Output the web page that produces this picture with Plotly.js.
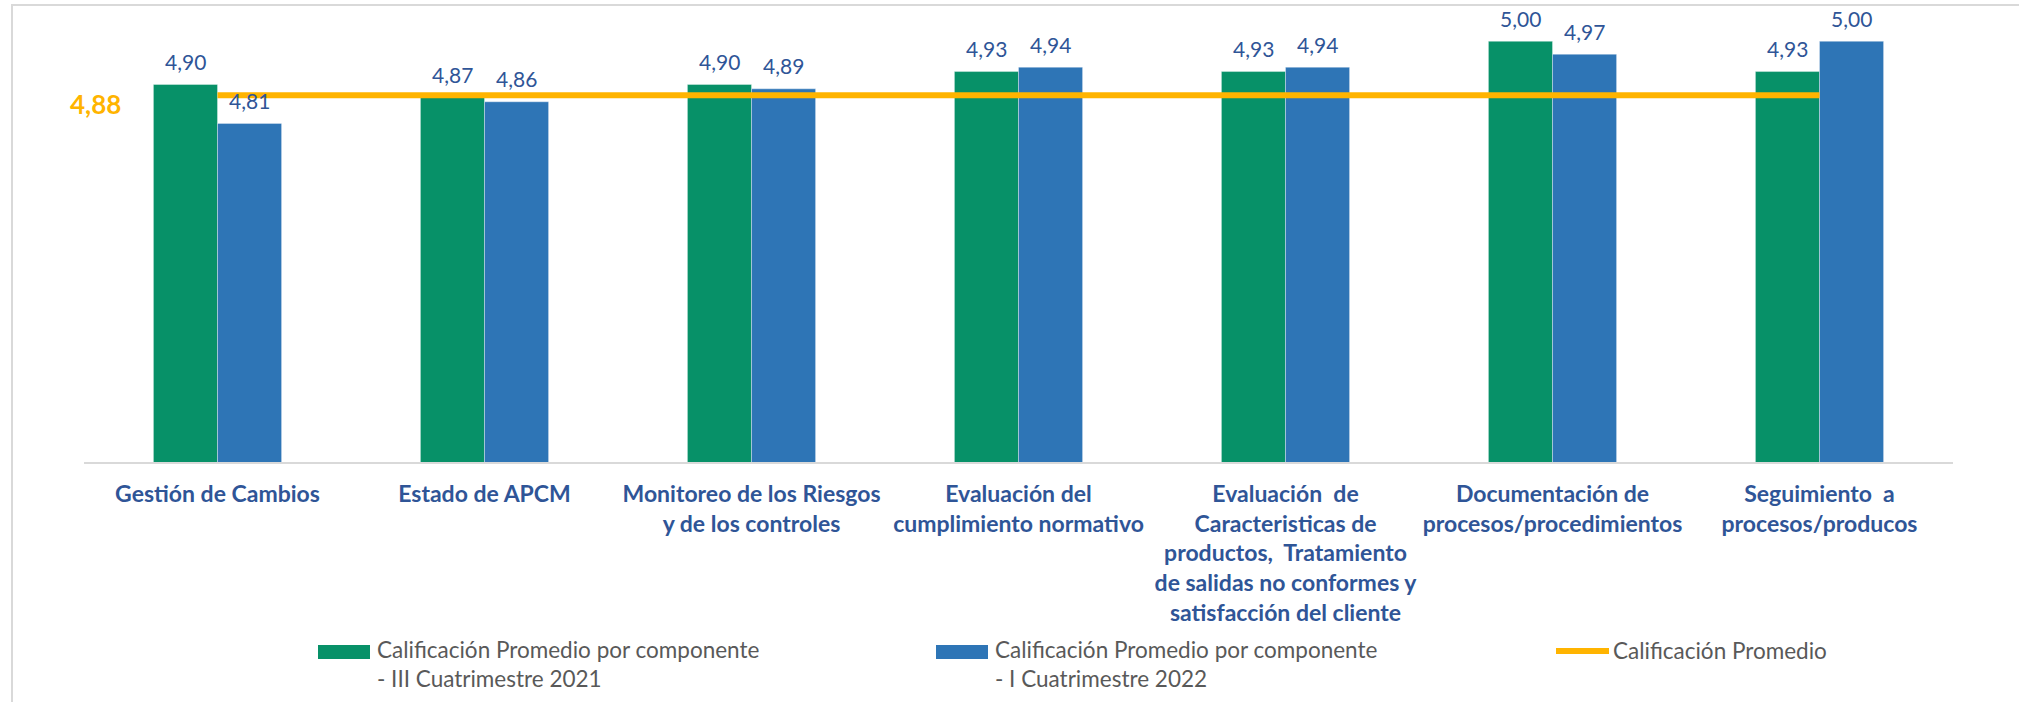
<!DOCTYPE html>
<html>
<head>
<meta charset="utf-8">
<script src="https://cdn.plot.ly/plotly-3.0.1.min.js"></script>
<style>
  html, body { margin: 0; padding: 0; background: #ffffff; overflow: hidden; }
  #frame { position: absolute; left: 11px; top: 4px; width: 2100px; height: 800px;
           border-top: 2px solid #D9D9D9; border-left: 2px solid #D9D9D9; box-sizing: border-box; }
  #chart { position: absolute; left: 0; top: 0; width: 2019px; height: 702px; }
</style>
</head>
<body>
<div id="frame"></div>
<div id="chart"></div>
<script>
// ---- DATA ----
const categories = [
  "Gestión de Cambios",
  "Estado de APCM",
  "Monitoreo de los Riesgos<br>y de los controles",
  "Evaluación del<br>cumplimiento normativo",
  "Evaluación  de<br>Caracteristicas de<br>productos,  Tratamiento<br>de salidas no conformes y<br>satisfacción del cliente",
  "Documentación de<br>procesos/procedimientos",
  "Seguimiento  a<br>procesos/producos"
];
const values2021 = [4.90, 4.87, 4.90, 4.93, 4.93, 5.00, 4.93];
const values2022 = [4.81, 4.86, 4.89, 4.94, 4.94, 4.97, 5.00];
const promedio = 4.875;
const seriesNames = [
  "Calificación Promedio por componente - III Cuatrimestre 2021",
  "Calificación Promedio por componente - I Cuatrimestre 2022",
  "Calificación Promedio"
];
const legendLabels = [
  "Calificación Promedio por componente<br>- III Cuatrimestre 2021",
  "Calificación Promedio por componente<br>- I Cuatrimestre 2022",
  "Calificación Promedio"
];

// ---- STYLE ----
const W = 2019, H = 702;
const M = { l: 84, r: 66, t: 18, b: 240 };
const GREEN = "#079168", BLUE = "#2E75B6", GOLD = "#FFB400";
const LABEL_BLUE = "#2F5597", GRAY = "#595959";
const FONT = "Lato, 'Open Sans', sans-serif";
const plotW = W - M.l - M.r, plotH = H - M.t - M.b;
const px2x = p => (p - M.l) / plotW;
const py2y = p => (H - M.b - p) / plotH;
const fmt = v => v.toFixed(2).replace('.', ',');

const promedioLine = categories.map(() => promedio);

const traces = [
  { type: "bar", name: seriesNames[0], x: categories, y: values2021,
    marker: { color: GREEN, line: { color: "rgba(255,255,255,0.35)", width: 1 } },
    hoverinfo: "none", showlegend: false },
  { type: "bar", name: seriesNames[1], x: categories, y: values2022,
    marker: { color: BLUE, line: { color: "rgba(255,255,255,0.35)", width: 1 } },
    hoverinfo: "none", showlegend: false },
  { type: "scatter", mode: "lines", name: seriesNames[2], x: categories, y: promedioLine,
    line: { color: GOLD, width: 6 }, hoverinfo: "none", showlegend: false }
];

const annotations = [];
const BAR_OFF = 32;
values2021.forEach((v, i) => annotations.push({
  xref: "x", yref: "y", x: categories[i], y: v, xshift: -BAR_OFF, yshift: 23,
  text: fmt(v), showarrow: false, xanchor: "center", yanchor: "middle",
  font: { family: FONT, size: 21, color: LABEL_BLUE }
}));
values2022.forEach((v, i) => annotations.push({
  xref: "x", yref: "y", x: categories[i], y: v, xshift: BAR_OFF, yshift: 23,
  text: fmt(v), showarrow: false, xanchor: "center", yanchor: "middle",
  font: { family: FONT, size: 21, color: LABEL_BLUE }
}));
// average value label
annotations.push({
  xref: "x", yref: "y", x: categories[0], y: promedio, xshift: -122, yshift: -9,
  text: fmt(promedio), showarrow: false, xanchor: "center", yanchor: "middle",
  font: { family: FONT, size: 26, color: GOLD, weight: "bold" }
});

// custom legend
const legendStarts = [318, 936, 1554];
const shapes = [];
[GREEN, BLUE].forEach((c, i) => shapes.push({
  type: "rect", xref: "paper", yref: "paper", layer: "above",
  x0: px2x(legendStarts[i]), x1: px2x(legendStarts[i] + 52),
  y0: py2y(645), y1: py2y(659), fillcolor: c, line: { width: 0 }
}));
shapes.push({
  type: "line", xref: "paper", yref: "paper",
  x0: px2x(legendStarts[2] + 2), x1: px2x(legendStarts[2] + 55),
  y0: py2y(651), y1: py2y(651), line: { color: GOLD, width: 6 }
});
legendLabels.forEach((t, i) => annotations.push({
  xref: "paper", yref: "paper", x: px2x(legendStarts[i] + 57),
  y: py2y(i < 2 ? 664 : 650), text: t, showarrow: false,
  xanchor: "left", yanchor: "middle", align: "left",
  font: { family: FONT, size: 22.5, color: GRAY }
}));

const layout = {
  width: W, height: H, margin: M,
  paper_bgcolor: "rgba(0,0,0,0)", plot_bgcolor: "rgba(0,0,0,0)",
  barmode: "group", bargap: 0.52, bargroupgap: 0,
  showlegend: false,
  xaxis: {
    type: "category", range: [-0.5, categories.length - 0.5],
    showline: true, linecolor: "#D9D9D9", linewidth: 2,
    ticks: "", showgrid: false, zeroline: false, ticklabelstandoff: 10,
    tickfont: { family: FONT, size: 23, color: LABEL_BLUE, weight: "bold" }
  },
  yaxis: {
    range: [4.026, 5.054], showgrid: false, zeroline: false,
    showticklabels: false, showline: false, ticks: ""
  },
  annotations: annotations,
  shapes: shapes
};

Plotly.newPlot("chart", traces, layout, { staticPlot: true, displayModeBar: false });
</script>
</body>
</html>
